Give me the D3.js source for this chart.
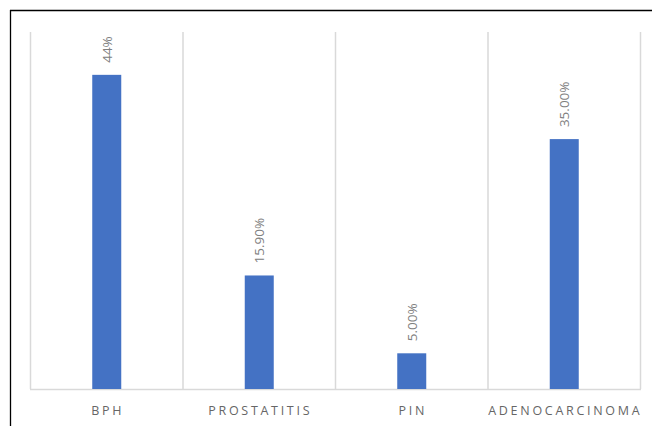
<!DOCTYPE html>
<html>
<head>
<meta charset="utf-8">
<script src="https://cdn.jsdelivr.net/npm/d3@7"></script>
<style>
  html, body { margin: 0; padding: 0; background: #fff; }
  svg { display: block; }
</style>
</head>
<body>
<script>
// Share of diagnoses per category (percent)
const categories = ["BPH", "PROSTATITIS", "PIN", "ADENOCARCINOMA"];
const values = [44, 15.9, 5, 35];
const valueLabels = ["44%", "15.90%", "5.00%", "35.00%"];
const yDomain = [0, 50];

const W = 652, H = 426;
const plot = { left: 30, right: 640, top: 32, bottom: 389 };

const svg = d3.select("body").append("svg")
  .attr("width", W).attr("height", H);

// frame lines along top and left edges
svg.append("line").attr("x1", 10).attr("x2", W).attr("y1", 10.5).attr("y2", 10.5)
  .attr("stroke", "#000").attr("stroke-width", 1.3);
svg.append("line").attr("x1", 10.5).attr("x2", 10.5).attr("y1", 10).attr("y2", H)
  .attr("stroke", "#000").attr("stroke-width", 1.3);

const x = d3.scaleBand().domain(categories)
  .range([plot.left, plot.right]).paddingInner(0).paddingOuter(0);
const y = d3.scaleLinear().domain(yDomain).range([plot.bottom, plot.top]);

// vertical category separators
const edges = categories.map(c => x(c)).concat([x(categories[categories.length - 1]) + x.bandwidth()]);
svg.append("g").selectAll("line").data(edges).join("line")
  .attr("x1", d => d + 0.5).attr("x2", d => d + 0.5)
  .attr("y1", plot.top).attr("y2", plot.bottom)
  .attr("stroke", "#d9d9d9").attr("stroke-width", 1.5);

// baseline
svg.append("line").attr("x1", plot.left).attr("x2", plot.right + 1)
  .attr("y1", plot.bottom + 0.5).attr("y2", plot.bottom + 0.5)
  .attr("stroke", "#d9d9d9").attr("stroke-width", 1.5);

const barW = 29;
svg.append("g").selectAll("rect").data(categories).join("rect")
  .attr("x", c => x(c) + x.bandwidth() / 2 - barW / 2 + 0.5)
  .attr("y", (c, i) => y(values[i]))
  .attr("width", barW)
  .attr("height", (c, i) => y(0) - y(values[i]))
  .attr("fill", "#4472c4");

// rotated value labels above bars
svg.append("g").selectAll("text").data(categories).join("text")
  .attr("transform", (c, i) => `translate(${x(c) + x.bandwidth() / 2 + 5.5},${y(values[i]) - 12}) rotate(-90)`)
  .attr("text-anchor", "start")
  .attr("font-family", "'Open Sans', 'Liberation Sans', sans-serif")
  .attr("font-size", 13.5)
  .attr("fill", "#808080")
  .text((c, i) => valueLabels[i]);

// category axis labels
svg.append("g").selectAll("text").data(categories).join("text")
  .attr("x", c => x(c) + x.bandwidth() / 2 + 1.5)
  .attr("y", 415)
  .attr("text-anchor", "middle")
  .attr("font-family", "'Open Sans', 'Liberation Sans', sans-serif")
  .attr("font-size", 12.5)
  .attr("letter-spacing", "2.7px")
  .attr("fill", "#666666")
  .text(c => c);
</script>
</body>
</html>
